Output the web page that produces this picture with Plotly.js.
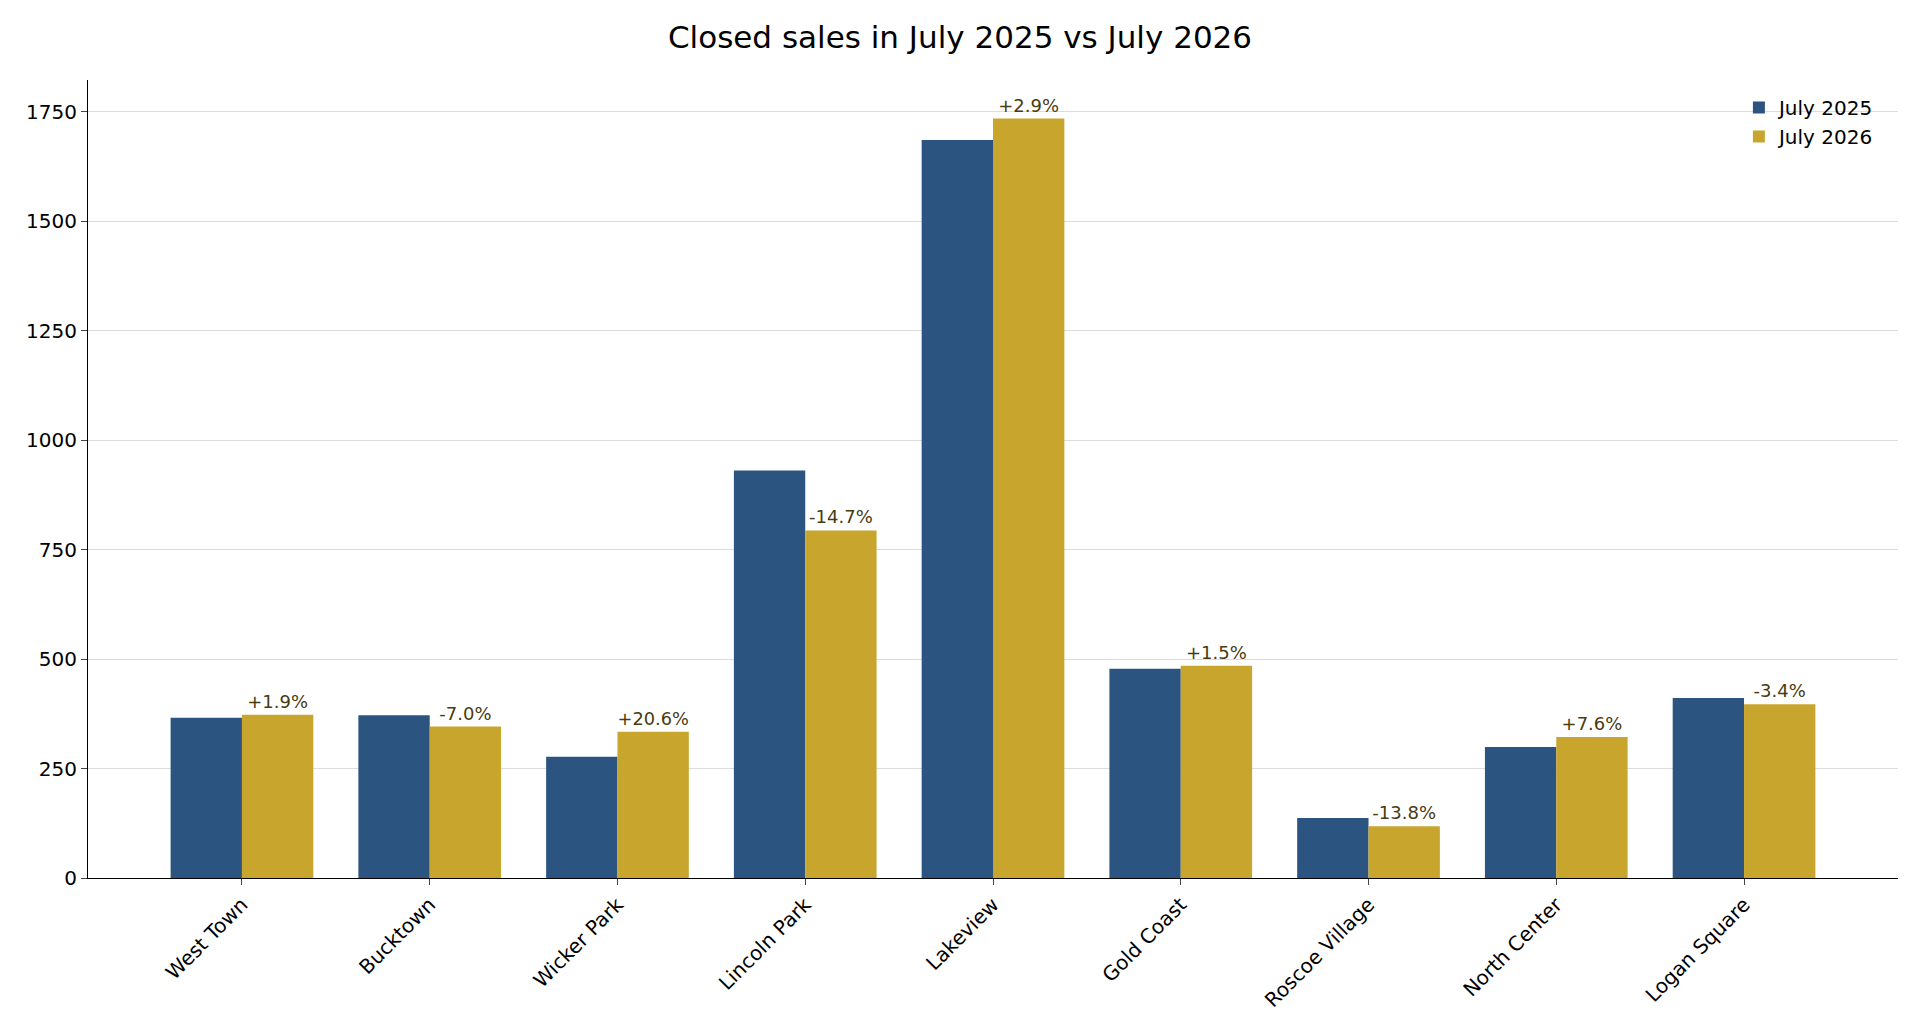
<!DOCTYPE html>
<html>
<head>
<meta charset="utf-8">
<script src="https://cdn.plot.ly/plotly-3.0.1.min.js"></script>
<style>html,body{margin:0;padding:0;background:#fff}#chart{width:1920px;height:1033px}</style>
</head>
<body>
<div id="chart"></div>
<script>
const neighborhoods = ['West Town', 'Bucktown', 'Wicker Park', 'Lincoln Park', 'Lakeview',
    'Gold Coast', 'Roscoe Village', 'North Center', 'Logan Square'];
const sales2025 = [366, 372, 277, 931, 1686, 478, 137, 299, 411];
const sales2026 = [373, 346, 334, 794, 1735, 485, 118, 322, 397];
const changeLabels = ['+1.9%', '-7.0%', '+20.6%', '-14.7%', '+2.9%', '+1.5%', '-13.8%', '+7.6%', '-3.4%'];

const font = 'DejaVu Sans, sans-serif';

const data = [
    {
        type: 'bar', name: 'July 2025', x: neighborhoods, y: sales2025,
        marker: { color: '#2b5580' }
    },
    {
        type: 'bar', name: 'July 2026', x: neighborhoods, y: sales2026,
        marker: { color: '#c8a62e' },
        text: changeLabels, textposition: 'outside', cliponaxis: false,
        textfont: { family: font, size: 18, color: '#4a3b10' }
    }
];

const layout = {
    width: 1920, height: 1033,
    font: { family: font, size: 19, color: '#000' },
    paper_bgcolor: '#fff', plot_bgcolor: '#fff',
    title: { text: 'Closed sales in July 2025 vs July 2026', x: 0.5, y: 0.975, font: { size: 31 } },
    margin: { l: 88, r: 22, t: 80, b: 155 },
    barmode: 'group', bargap: 0.24, bargroupgap: 0,
    showlegend: true,
    legend: { x: 0.99, y: 0.99, xanchor: 'right', yanchor: 'top', font: { size: 20 }, bgcolor: 'rgba(0,0,0,0)' },
    xaxis: {
        range: [-0.82, 8.82],
        tickangle: -45, ticks: 'outside', ticklen: 6, showline: true, linecolor: '#000',
        showgrid: false, tickfont: { size: 20 }
    },
    yaxis: {
        range: [0, 1823], dtick: 250, ticks: 'outside', ticklen: 6, showline: true, linecolor: '#000',
        gridcolor: '#dcdcdc', zeroline: false, tickfont: { size: 20 }
    }
};

Plotly.newPlot('chart', data, layout, { displayModeBar: false });
</script>
</body>
</html>
